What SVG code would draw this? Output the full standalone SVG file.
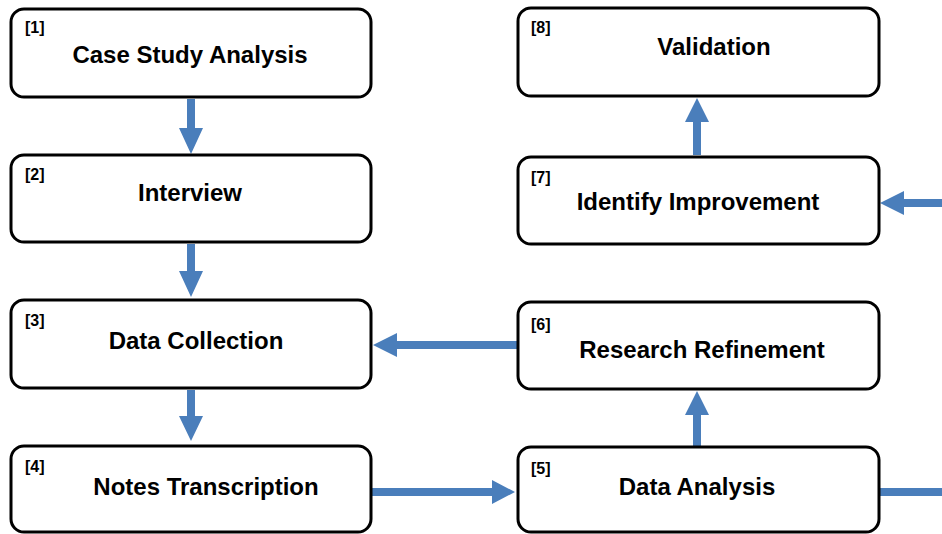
<svg xmlns="http://www.w3.org/2000/svg" width="942" height="534" viewBox="0 0 942 534">
<defs>
<style>
.box{fill:#fff;stroke:#000;stroke-width:3}
.t{font-family:"Liberation Sans",Arial,sans-serif;font-weight:bold;font-size:24px;text-anchor:middle;fill:#000}
.n{font-family:"Liberation Sans",Arial,sans-serif;font-weight:bold;font-size:16px;fill:#000}
.ar{fill:#4A7EBB}
</style>
</defs>
<rect width="942" height="534" fill="#fff"/>
<g id="connectors">
<path class="ar" d="M187,99 H195 V128 H203 L191,154 L179,128 H187 Z"/>
<path class="ar" d="M187,244 H195 V271 H203 L191,297 L179,271 H187 Z"/>
<path class="ar" d="M187,390 H195 V416 H203 L191,441 L179,416 H187 Z"/>
<path class="ar" d="M517,341 V349 H397 V357 L373,345 L397,333 V341 Z"/>
<path class="ar" d="M372,488 V496 H492 V504 L515,492 L492,480 V488 Z"/>
<path class="ar" d="M880,488 H942 V496 H880 Z"/>
<path class="ar" d="M942,199 V207 H904 V215 L880,203 L904,191 V199 Z"/>
<path class="ar" d="M693,446 H701 V415 H709 L697,391 L685,415 H693 Z"/>
<path class="ar" d="M693,155 H701 V122 H709 L697,98 L685,122 H693 Z"/>
</g>
<g id="node1"><rect class="box" x="11" y="9" width="360" height="88" rx="13"/><text class="n" x="25" y="33">[1]</text><text class="t" x="190" y="63">Case Study Analysis</text></g>
<g id="node2"><rect class="box" x="11" y="155" width="360" height="87" rx="13"/><text class="n" x="25" y="180">[2]</text><text class="t" x="190" y="201">Interview</text></g>
<g id="node3"><rect class="box" x="11" y="300" width="360" height="88" rx="13"/><text class="n" x="25" y="326">[3]</text><text class="t" x="196" y="349">Data Collection</text></g>
<g id="node4"><rect class="box" x="11" y="446" width="360" height="86" rx="13"/><text class="n" x="25" y="472">[4]</text><text class="t" x="206" y="495">Notes Transcription</text></g>
<g id="node5"><rect class="box" x="518" y="447" width="361" height="85" rx="13"/><text class="n" x="531" y="474">[5]</text><text class="t" x="697" y="495">Data Analysis</text></g>
<g id="node6"><rect class="box" x="518" y="302" width="361" height="87" rx="13"/><text class="n" x="531" y="330">[6]</text><text class="t" x="702" y="358">Research Refinement</text></g>
<g id="node7"><rect class="box" x="518" y="157" width="361" height="87" rx="13"/><text class="n" x="531" y="183">[7]</text><text class="t" x="698" y="210">Identify Improvement</text></g>
<g id="node8"><rect class="box" x="518" y="8" width="361" height="88" rx="13"/><text class="n" x="531" y="33">[8]</text><text class="t" x="714" y="55">Validation</text></g>
</svg>
